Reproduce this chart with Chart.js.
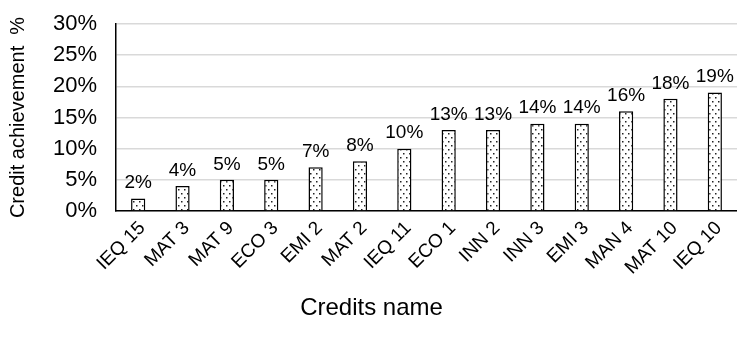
<!DOCTYPE html>
<html>
<head>
<meta charset="utf-8">
<script src="https://cdn.jsdelivr.net/npm/chart.js@4"></script>
<style>
  body { margin: 0; background: #fff; }
  #wrap { width: 737px; height: 340px; }
</style>
</head>
<body>
<div id="wrap"><canvas id="creditChart" width="737" height="340"></canvas></div>
<script>
const credits = ['IEQ 15', 'MAT 3', 'MAT 9', 'ECO 3', 'EMI 2', 'MAT 2', 'IEQ 11',
                 'ECO 1', 'INN 2', 'INN 3', 'EMI 3', 'MAN 4', 'MAT 10', 'IEQ 10'];
const achievement = [2, 4, 5, 5, 7, 8, 10, 13, 13, 14, 14, 16, 18, 19];
const yTicks = [0, 5, 10, 15, 20, 25, 30];
const xTitle = 'Credits name';

const FONT = "'Liberation Sans', Arial, sans-serif";

// dotted fill like the Excel pattern
function dotPattern() {
    const c = document.createElement('canvas');
    c.width = 6; c.height = 8;
    const g = c.getContext('2d');
    g.fillStyle = '#fff';
    g.fillRect(0, 0, 6, 8);
    g.fillStyle = '#222';
    g.fillRect(1, 1, 1.5, 1.5);
    g.fillRect(4, 5, 1.5, 1.5);
    return g.createPattern(c, 'repeat');
}

const valueLabels = {
    id: 'valueLabels',
    afterDatasetsDraw(chart) {
        const ctx = chart.ctx;
        const meta = chart.getDatasetMeta(0);
        ctx.save();
        ctx.font = '19px ' + FONT;
        ctx.fillStyle = '#000';
        ctx.textAlign = 'center';
        ctx.textBaseline = 'bottom';
        meta.data.forEach(function (bar, i) {
            ctx.fillText(achievement[i] + '%', bar.x, bar.y - 6);
        });
        ctx.restore();
    },
    // x title is centred on the whole figure, not on the plot area
    afterDraw(chart) {
        const ctx = chart.ctx;
        ctx.save();
        ctx.font = '24px ' + FONT;
        ctx.fillStyle = '#000';
        ctx.textAlign = 'center';
        ctx.textBaseline = 'middle';
        ctx.fillText(xTitle, chart.width / 2 + 3, 308);
        ctx.restore();
    }
};

const ctx = document.getElementById('creditChart').getContext('2d');

const creditChart = new Chart(ctx, {
    type: 'bar',
    data: {
        labels: credits,
        datasets: [{
            data: achievement,
            backgroundColor: dotPattern(),
            borderColor: '#000',
            borderWidth: 1.5,
            barPercentage: 0.32,
            categoryPercentage: 1
        }]
    },
    options: {
        responsive: false,
        animation: false,
        layout: { padding: { top: 24, right: 0, left: 0, bottom: 0 } },
        plugins: {
            legend: { display: false },
            tooltip: { enabled: false }
        },
        scales: {
            y: {
                min: 0,
                max: 30,
                afterBuildTicks(scale) {
                    scale.ticks = yTicks.map(v => ({ value: v }));
                },
                afterFit(scale) {
                    scale.width = 116;
                    scale.paddingTop = 0;
                    scale.paddingBottom = 0;
                },
                ticks: {
                    padding: 19,
                    color: '#000',
                    font: { family: FONT, size: 22 },
                    callback: v => v + '%'
                },
                grid: { color: '#d9d9d9', lineWidth: 1.5, drawTicks: false },
                border: { color: '#000', width: 1.5 },
                title: {
                    display: true,
                    text: 'Credit achievement  %',
                    color: '#000',
                    font: { family: FONT, size: 20 },
                    padding: { top: 6, bottom: 0 }
                }
            },
            x: {
                afterFit(scale) { scale.height = 129; },
                ticks: {
                    minRotation: 45,
                    maxRotation: 45,
                    padding: 6,
                    labelOffset: 4,
                    color: '#000',
                    font: { family: FONT, size: 19 }
                },
                grid: { display: false, drawTicks: false },
                border: { color: '#000', width: 1.5 }
            }
        }
    },
    plugins: [valueLabels]
});
</script>
</body>
</html>
